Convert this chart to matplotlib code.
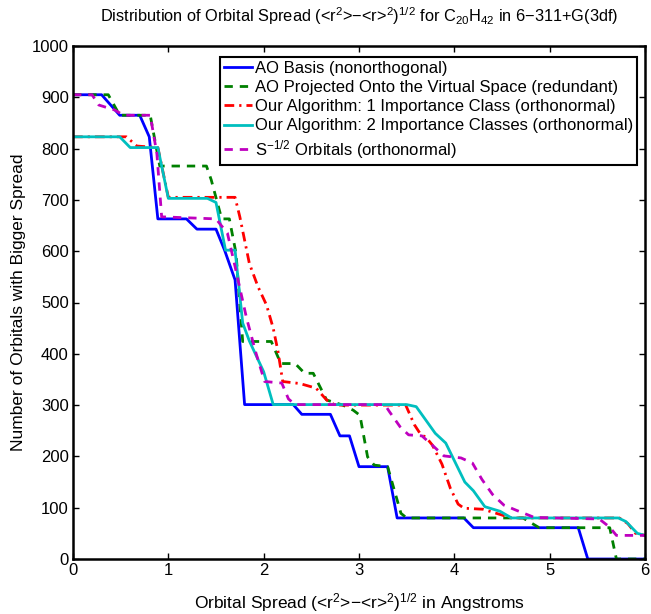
import matplotlib
matplotlib.use("Agg")
import matplotlib.pyplot as plt

plt.rcParams['font.family'] = ['Liberation Sans', 'DejaVu Sans']
plt.rcParams['mathtext.default'] = 'regular'

# AO Basis (nonorthogonal)
ao_x = [0, 0.30, 0.49, 0.70, 0.80, 0.89, 1.19, 1.30, 1.50, 1.59, 1.70, 1.80, 2.31, 2.40,
        2.70, 2.80, 2.90, 3.00, 3.30, 3.40, 4.10, 4.20, 5.30, 5.40, 6.0]
ao_y = [905, 905, 865, 865, 823, 663, 663, 643, 643, 602, 544, 301, 301, 282,
        282, 240, 240, 180, 180, 80, 80, 61, 61, 0, 0]

# AO projected onto the virtual space (redundant)
proj_x = [0, 0.37, 0.49, 0.81, 0.91, 1.40, 1.45, 1.56, 1.64, 1.71, 1.78, 2.08, 2.18, 2.33,
          2.43, 2.52, 2.66, 2.83, 2.94, 3.01, 3.09, 3.16, 3.30, 3.44, 3.50, 4.72, 4.89,
          5.63, 5.70, 6.0]
proj_y = [905, 905, 865, 865, 766, 766, 739, 663, 663, 596, 424, 424, 381, 381,
          362, 362, 310, 300, 290, 280, 199, 183, 180, 89, 80, 80, 61,
          61, 0, 0]

# Our algorithm: 1 importance class
one_x = [0, 0.49, 0.56, 0.67, 0.89, 1.00, 1.49, 1.70, 1.75, 1.85, 1.94, 2.03, 2.10, 2.15,
         2.20, 2.38, 2.55, 2.66, 2.75, 3.49, 3.58, 3.65, 3.70, 3.77, 3.87, 3.96, 4.04,
         4.10, 4.30, 4.60, 5.73, 5.82, 5.90, 6.0]
one_y = [823, 823, 823, 805, 802, 705, 705, 705, 667, 576, 531, 495, 450, 405,
         346, 342, 333, 310, 300, 300, 262, 242, 238, 222, 185, 137, 107,
         99, 97, 80, 80, 69, 50, 46]

# Our algorithm: 2 importance classes
two_x = [0, 0.49, 0.60, 0.89, 1.00, 1.41, 1.50, 1.60, 1.70, 1.78, 1.85, 2.00, 2.10, 3.50,
         3.60, 3.80, 3.91, 4.11, 4.20, 4.32, 4.48, 4.60, 5.72, 5.80, 5.92, 6.0]
two_y = [823, 823, 802, 802, 703, 703, 695, 602, 602, 460, 425, 365, 301, 301,
         297, 245, 226, 150, 133, 102, 93, 80, 80, 73, 50, 46]

# S^-1/2 orbitals
s_x = [0, 0.20, 0.27, 0.44, 0.53, 0.81, 0.88, 0.93, 1.50, 1.62, 1.70, 1.76, 1.82, 1.92,
       2.01, 2.19, 2.26, 2.33, 3.27, 3.32, 3.43, 3.52, 3.66, 3.78, 3.89, 4.07, 4.19,
       4.29, 4.40, 4.52, 4.65, 4.84, 5.52, 5.63, 5.70, 6.0]
s_y = [905, 905, 885, 875, 865, 865, 790, 667, 663, 635, 570, 520, 470, 401,
       346, 343, 312, 301, 301, 287, 258, 242, 240, 220, 201, 197, 187,
       155, 126, 105, 95, 81, 78, 62, 46, 46]

fig = plt.figure(figsize=(6.51, 6.14), dpi=100)
ax = fig.add_axes([73/651, 1 - 559/614, 572/651, 513/614])

ax.plot(ao_x, ao_y, '-', color=(0, 0, 1), lw=2.0, label='AO Basis (nonorthogonal)')
ax.plot(proj_x, proj_y, '--', color=(0, 0.5, 0), lw=2.0, dashes=(3, 2.5),
        label='AO Projected Onto the Virtual Space (redundant)')
ax.plot(one_x, one_y, '-.', color=(1, 0, 0), lw=2.0, dashes=(3.5, 1.8, 0.8, 1.8),
        label='Our Algorithm: 1 Importance Class (orthonormal)')
ax.plot(two_x, two_y, '-', color=(0, 0.75, 0.75), lw=2.0,
        label='Our Algorithm: 2 Importance Classes (orthonormal)')
ax.plot(s_x, s_y, '--', color=(0.75, 0, 0.75), lw=2.0, dashes=(3, 2.5),
        label='S$^{-1/2}$ Orbitals (orthonormal)')

ax.set_xlim(0, 6)
ax.set_ylim(0, 1000)
ax.set_xticks(range(0, 7))
ax.set_yticks(range(0, 1001, 100))
ax.tick_params(direction='in', top=True, right=True, length=4, width=1, labelsize=12, pad=3)
for s in ax.spines.values():
    s.set_linewidth(1.8)

ax.set_title('Distribution of Orbital Spread (<r$^2$>\u2212<r>$^2$)$^{1/2}$ for '
             'C$_{20}$H$_{42}$ in 6\u2212311+G(3df)', fontsize=11.8, pad=17)
ax.set_xlabel('Orbital Spread (<r$^2$>\u2212<r>$^2$)$^{1/2}$ in Angstroms', fontsize=12.5, labelpad=9)
ax.set_ylabel('Number of Orbitals with Bigger Spread', fontsize=12.5, labelpad=4)

leg = ax.legend(loc='upper right', bbox_to_anchor=(0.986, 0.979), fontsize=12,
                handlelength=1.7, labelspacing=0.25, borderpad=0.25, handletextpad=0.15,
                borderaxespad=0, fancybox=False, framealpha=1)
leg.get_frame().set_edgecolor('black')
leg.get_frame().set_linewidth(1.5)

fig.savefig('out.png', dpi=100)
